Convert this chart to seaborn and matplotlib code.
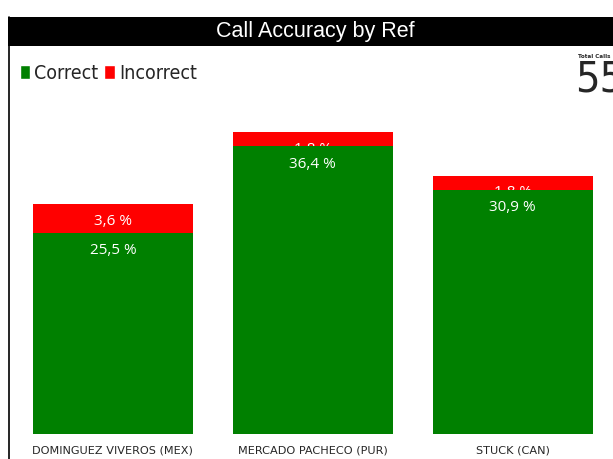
import matplotlib
matplotlib.use("Agg")
import matplotlib.pyplot as plt
from matplotlib.patches import Patch, Rectangle
import seaborn as sns
import pandas as pd

refs = ["DOMINGUEZ VIVEROS (MEX)", "MERCADO PACHECO (PUR)", "STUCK (CAN)"]
correct = [25.5, 36.4, 30.9]
incorrect = [3.6, 1.8, 1.8]
total_calls = 55
title = "Call Accuracy by Ref"

GREEN = "#008000"
RED = "#ff0000"

sns.set_style("white")
plt.rcParams["font.family"] = ["DejaVu Sans"]

df = pd.DataFrame({"ref": refs, "correct": correct, "incorrect": incorrect})
df["total"] = df["correct"] + df["incorrect"]

W, H = 613, 459
fig = plt.figure(figsize=(W / 100, H / 100), dpi=100)

# axes: bottom at y=434 px, top at y=100 px
ax = fig.add_axes([12 / W, (H - 434) / H, (W - 12) / W, (434 - 100) / H])
ax.patch.set_alpha(0)

sns.barplot(data=df, x="ref", y="total", color=RED, saturation=1, width=0.8,
            ax=ax, edgecolor="none")
n_red = len(ax.patches)
sns.barplot(data=df, x="ref", y="correct", color=GREEN, saturation=1, width=0.8,
            ax=ax, edgecolor="none")
for k, p in enumerate(ax.patches):
    p.set_zorder(2 if k < n_red else 3)

ax.set_ylim(0, (434 - 100) / 7.9)
ax.set_xlim(-0.5 - 1 / 200, 2.5 + 0.5 / 200)
ax.set_xlabel("")
ax.set_ylabel("")
ax.set_yticks([])
for s in ax.spines.values():
    s.set_visible(False)
ax.tick_params(axis="x", length=0, pad=8, labelsize=8.1)

lab_font = "Open Sans"
for i, r in df.iterrows():
    t = ax.annotate(f"{r['incorrect']:.1f} %".replace(".", ","), (i, r["total"]),
                    xytext=(0, -7), textcoords="offset points", ha="center", va="top",
                    color="white", fontsize=11, family=lab_font)
    t.set_zorder(2.5)
    t2 = ax.annotate(f"{r['correct']:.1f} %".replace(".", ","), (i, r["correct"]),
                     xytext=(0, -7.5), textcoords="offset points", ha="center", va="top",
                     color="white", fontsize=11, family=lab_font)
    t2.set_zorder(4)

# frame: title bar + left border
fig.patches.append(Rectangle((8 / W, (H - 46) / H), (W - 8) / W, 29 / H,
                             transform=fig.transFigure, facecolor="black",
                             edgecolor="none", zorder=0))
fig.add_artist(plt.Line2D([8.5 / W, 8.5 / W], [0, (H - 17) / H],
                          transform=fig.transFigure, color="black", lw=1.2))
fig.text((8 + W) / 2 / W + 5 / W, (H - 31.5) / H, title, color="white", ha="center",
         va="center", fontsize=15.5, family="Liberation Sans")

handles = [Patch(facecolor=GREEN, label="Correct"),
           Patch(facecolor=RED, label="Incorrect")]
fig.legend(handles=handles, loc="upper left", bbox_to_anchor=(12 / W, (H - 56) / H),
           ncol=2, frameon=False, handlelength=0.55, handleheight=0.75,
           handletextpad=0.2, columnspacing=0.3, borderaxespad=0,
           prop={"family": "DejaVu Sans", "stretch": "condensed", "size": 14})

fig.text(611 / W, (H - 56) / H, "Total Calls", ha="right", va="center",
         fontsize=4.5, family="DejaVu Sans", stretch="condensed", fontweight="bold")
fig.text(575 / W, (H - 79) / H, f"{total_calls}", ha="left", va="center",
         fontsize=31, family="DejaVu Sans", stretch="condensed")

fig.savefig("out.png", dpi=100)
